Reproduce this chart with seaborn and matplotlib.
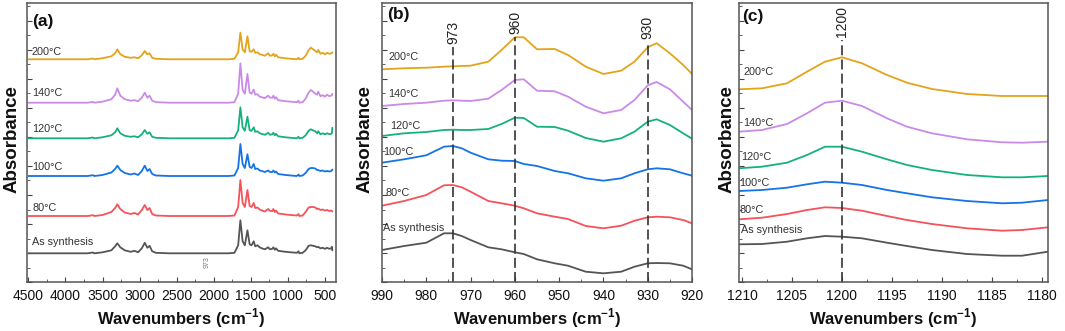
import numpy as np
import matplotlib
matplotlib.use("Agg")
import matplotlib.pyplot as plt
import matplotlib.transforms as mtrans
from matplotlib.ticker import MultipleLocator
import seaborn as sns

# Séries (de baixo para cima no gráfico)
NOMES = ["As synthesis", "80°C", "100°C", "120°C", "140°C", "200°C"]
CORES = ["#555555", "#f5525a", "#1473e6", "#14b27a", "#c98ae8", "#e3a41c"]

# Painel (a): espectro completo
WN_A = [4500, 3700, 3630, 3610, 3500, 3380, 3330, 3300, 3260, 3200, 3120, 3070, 3020, 2970,
        2930, 2895, 2865, 2830, 2780, 2600, 1800, 1720, 1670, 1640, 1610, 1580, 1545, 1515,
        1490, 1460, 1440, 1410, 1380, 1350, 1310, 1265, 1240, 1210, 1195, 1175, 1160, 1130,
        1080, 1030, 960, 880, 855, 845, 800, 760, 720, 690, 660, 630, 605, 590, 560, 530,
        500, 470, 440, 415, 405, 400]
OFFSET_A = [28.7, 66, 106, 143.7, 179.3, 222.7]
ABS_A = [
    [0, 0, 0.8, 0, 1, 3, 7, 10, 6, 3, 1.5, 2.5, 1, 5, 10.5, 5.5, 7.5, 2, 0.5, 0, 0, 0.5, 8, 33,
     12, 8, 23, 9, 8, 12, 7, 8, 6, 5, 4, 6, 4, 4.5, 6, 3.5, 5, 2.5, 2, 1.5, 1, 0.5, 2, 0, 0.5,
     3, 7.5, 8, 7.5, 7, 6, 6.5, 5, 5.5, 4.5, 5.5, 4.5, 5, 6.5, 3],
    [0, 0, 0.8, 0, 1, 4, 8, 11.7, 7, 3.5, 2, 3, 1.5, 6, 11, 6, 8, 2, 0.5, 0, 0, 0.5, 9, 36,
     13, 9, 26, 10, 9, 13, 8, 8.5, 6.5, 5.5, 4.5, 7, 5, 5, 7, 4, 5.5, 2.5, 2, 1.5, 1, 0.5, 2,
     0, 0.5, 4, 8.5, 9, 9, 8.5, 7, 7.5, 6, 6.5, 5.5, 6, 5, 5.5, 5, 4.5],
    [0, 0, 0.8, 0, 1, 3.5, 7, 10.3, 6, 3, 1.5, 2.5, 1, 5, 10.3, 5, 7, 2, 0.5, 0, 0, 0.5, 8, 32,
     12, 8, 21.7, 9, 8, 12, 7, 7.5, 5.5, 5, 4, 5.5, 4, 4, 5.5, 3.5, 4.5, 2, 1.5, 1, 0.5, 0,
     1.5, 0, 0.5, 3, 7, 8, 8, 7.5, 6, 6, 5, 5.5, 4.5, 5, 4.5, 5, 5.5, 6.5],
    [0, 0, 0.8, 0, 1, 3, 6, 10, 5, 2.5, 1.5, 2, 1, 4, 8.3, 4.5, 6, 1.5, 0.5, 0, 0, 0.5, 8, 31,
     11, 7.5, 21.6, 8, 7.5, 11, 6.5, 7, 5, 4.5, 3.5, 5.5, 3.5, 4, 5.5, 3, 4.5, 2, 1.5, 1, 0.5,
     0, 1.5, 0, 0.5, 3, 7.5, 9, 8, 7, 5, 7, 4, 5, 4, 5, 4, 4.5, 5, 10.5],
    [0, 0, 0.8, 0, 1, 3.5, 8, 14.4, 7, 3.5, 2, 2.5, 1.5, 5, 10, 5, 7, 2, 0.5, 0, 0, 0.5, 9,
     39.4, 13, 9, 28.7, 10, 9, 13, 8, 8.5, 6, 5.5, 4.5, 7, 5, 5, 7, 4, 5.5, 2.5, 2, 1.5, 1,
     0.5, 2, 0, 0.5, 4, 10, 12.7, 11, 9, 8, 11, 6.5, 7.5, 6, 8, 6.5, 7, 7.5, 9],
    [0, 0, 0.8, 0, 1, 3, 6, 10, 5, 2.5, 1.5, 2, 1, 4, 8.3, 5, 6, 1.5, 0.5, 0, 0, 0.5, 7, 26.7,
     10, 7, 23, 8, 7.5, 10, 6.5, 7, 5, 4.5, 3.5, 6, 3.5, 4, 5.5, 3, 4.5, 2, 1.5, 1, 0.5, 0,
     1.5, 0, 0.5, 3.5, 9, 11.7, 10, 8.5, 7, 9.3, 5.5, 6.5, 5, 6.5, 5.5, 6, 6.5, 7],
]

# Painel (b): 990-920 cm-1
WN_B = [990, 985, 980, 976, 974, 972, 970, 966, 963, 960, 958, 955, 951, 948, 944, 940, 936,
        933, 930, 928, 925, 922, 920]
ABS_B = [
    [32, 36, 39.3, 48.7, 48.7, 46, 42, 34.7, 32.7, 29.7, 28, 22.7, 18.7, 16.3, 10.3, 8.7, 10.3,
     15.3, 18.7, 19, 18.7, 16.3, 12.7],
    [76.3, 81, 87, 96.7, 97, 94.7, 90.3, 81, 78.7, 76.3, 73.7, 68.7, 65.3, 63, 56, 53.7, 56.3,
     61.3, 64.7, 65.3, 64.7, 62, 58.7],
    [119.3, 122.7, 126.7, 135.3, 136, 133.7, 129.3, 122.7, 121.3, 121, 118, 116, 111, 108.7,
     103.7, 101.3, 103.7, 108.7, 112.7, 113.7, 112.7, 108.7, 106.3],
    [146, 148.7, 150, 152, 152.3, 152, 152, 153, 158, 164.3, 164, 155.3, 155, 151.3, 144,
     140.3, 143.7, 150.3, 160.3, 162.7, 157, 148.7, 143.3],
    [176, 178, 179.3, 181.3, 181.7, 181.3, 181, 183.3, 192, 202, 202.7, 191.3, 190.7, 185.3,
     175.3, 168.7, 172, 182, 196.7, 200, 192.7, 180.3, 172],
    [212.7, 213.7, 214.3, 215.3, 215.7, 216, 216.3, 220.3, 232, 244.7, 244.7, 232.7, 233, 227,
     215.3, 208, 211.3, 220.3, 234.7, 238.7, 228.7, 217, 208],
]

# Painel (c): 1210-1180 cm-1
WN_C = [1210.3, 1208, 1205.5, 1203.5, 1201.7, 1200, 1198, 1195.5, 1193.5, 1191, 1187.5, 1184,
        1182, 1179.4]
ABS_C = [
    [37.7, 38, 40.3, 43.7, 46, 45.3, 43.7, 39.3, 36, 32, 28, 26.3, 26.3, 30.3],
    [62.7, 64.3, 68, 72, 74.7, 74, 71.3, 66, 62, 58, 53.7, 51.3, 52, 54.7],
    [91, 92, 94.3, 97.7, 100.3, 99.3, 97, 92, 88.7, 84.7, 81, 78.7, 79.3, 82],
    [113.7, 115.3, 119.3, 127, 135.3, 135.3, 130.3, 122.7, 117, 112, 107, 104.7, 104.7, 106],
    [150.3, 152, 158, 168.7, 179.3, 181.3, 176, 163.7, 155.3, 148.7, 142.7, 139.7, 139.3, 140.3],
    [192.7, 193.7, 198.7, 210.3, 220.3, 224.7, 218.7, 207, 199.3, 193, 188, 186, 186, 186],
]

# Linhas tracejadas de referência
PICOS_B = [(974, "973"), (960, "960"), (930, "930")]
PICOS_C = [(1200, "1200")]

sns.set_theme(style="ticks")
plt.rcParams["font.family"] = ["Liberation Sans", "DejaVu Sans"]
plt.rcParams["mathtext.fontset"] = "custom"
plt.rcParams["mathtext.bf"] = "Liberation Sans:bold"
plt.rcParams["mathtext.rm"] = "Liberation Sans"

fig = plt.figure(figsize=(10.65, 3.31), dpi=100)
ax_a = fig.add_axes([0.0254, 0.148, 0.2901, 0.843])
ax_b = fig.add_axes([0.3587, 0.148, 0.2911, 0.843])
ax_c = fig.add_axes([0.6939, 0.148, 0.2901, 0.843])

# posições dos rótulos das séries (fração do eixo)
POS_ROT = {
    "a": [(0.015, 0.144), (0.019, 0.266), (0.015, 0.413), (0.015, 0.547), (0.015, 0.676), (0.015, 0.825)],
    "b": [(0.004, 0.192), (0.010, 0.318), (0.004, 0.467), (0.026, 0.559), (0.019, 0.673), (0.020, 0.805)],
    "c": [(0.006, 0.186), (0.001, 0.258), (0.001, 0.356), (0.006, 0.449), (0.012, 0.571), (0.014, 0.754)],
}

for i, nome in enumerate(NOMES):
    y_a = np.array(ABS_A[i]) + OFFSET_A[i]
    sns.lineplot(x=WN_A, y=y_a, ax=ax_a, color=CORES[i], linewidth=1.3, sort=False, estimator=None)
    sns.lineplot(x=WN_B, y=ABS_B[i], ax=ax_b, color=CORES[i], linewidth=1.3, sort=False, estimator=None)
    sns.lineplot(x=WN_C, y=ABS_C[i], ax=ax_c, color=CORES[i], linewidth=1.3, sort=False, estimator=None)

for chave, ax in zip("abc", [ax_a, ax_b, ax_c]):
    for (fx, fy), nome in zip(POS_ROT[chave], NOMES):
        ax.text(fx, fy, nome, transform=ax.transAxes, fontsize=7.8, color="#333333",
                ha="left", va="center")

ax_a.set_xlim(4518, 350)
ax_b.set_xlim(990, 920)
ax_c.set_xlim(1210.3, 1179.4)

ax_a.xaxis.set_major_locator(MultipleLocator(500))
ax_a.xaxis.set_minor_locator(MultipleLocator(250))
ax_b.xaxis.set_major_locator(MultipleLocator(10))
ax_b.xaxis.set_minor_locator(MultipleLocator(5))
ax_c.xaxis.set_major_locator(MultipleLocator(5))
ax_c.xaxis.set_minor_locator(MultipleLocator(2.5))

# picos marcados
for ax, picos, ymax_lista in [(ax_b, PICOS_B, [0.843, 0.879, 0.861]), (ax_c, PICOS_C, [0.867])]:
    trans = mtrans.blended_transform_factory(ax.transData, ax.transAxes)
    for (xp, rotulo), ymax in zip(picos, ymax_lista):
        ax.axvline(xp, ymin=0, ymax=ymax, color="#333333", linewidth=1.2, linestyle=(0, (6, 2.5)))
        ax.text(xp, ymax + 0.01, rotulo, transform=trans, rotation=90, fontsize=10,
                ha="center", va="bottom", color="#222222")

trans_a = mtrans.blended_transform_factory(ax_a.transData, ax_a.transAxes)
ax_a.text(2095, 0.073, "973", transform=trans_a, rotation=90, fontsize=5, color="#777777",
          ha="center", va="center")

for ax, letra, (lx, ly), ylx in [(ax_a, "(a)", (0.016, 0.935), -0.050),
                                  (ax_b, "(b)", (0.015, 0.957), -0.055),
                                  (ax_c, "(c)", (0.009, 0.951), -0.040)]:
    ax.set_ylim(0, 279)
    ax.set_yticklabels([])
    ax.yaxis.set_major_locator(MultipleLocator(29))
    ax.yaxis.set_minor_locator(MultipleLocator(14.5))
    ax.tick_params(axis="both", which="both", direction="in", color="#444444")
    ax.tick_params(axis="both", which="major", length=3.5, width=0.8)
    ax.tick_params(axis="both", which="minor", length=2, width=0.6)
    ax.tick_params(axis="x", labelsize=10, pad=5, labelcolor="#111111")
    ax.tick_params(axis="y", left=True, right=False)
    ax.tick_params(axis="x", top=False)
    for lado in ax.spines.values():
        lado.set_visible(True)
        lado.set_color("#555555")
        lado.set_linewidth(1.1)
    ax.text(lx, ly, letra, transform=ax.transAxes, fontsize=12.5, fontweight="bold",
            ha="left", va="center", color="#111111")
    ax.set_ylabel("Absorbance", fontsize=13.5, fontweight="bold", color="#111111")
    ax.yaxis.set_label_coords(ylx, 0.5125)
    ax.yaxis.label.set_va("center")
    ax.set_xlabel("Wavenumbers (cm$^{\\mathbf{-1}}$)", fontsize=12, fontweight="bold", color="#111111")
    ax.xaxis.set_label_coords(0.5, -0.13)
    ax.xaxis.label.set_va("center")
    ax.set_facecolor("white")

fig.savefig("out.png", dpi=100, facecolor="white")
